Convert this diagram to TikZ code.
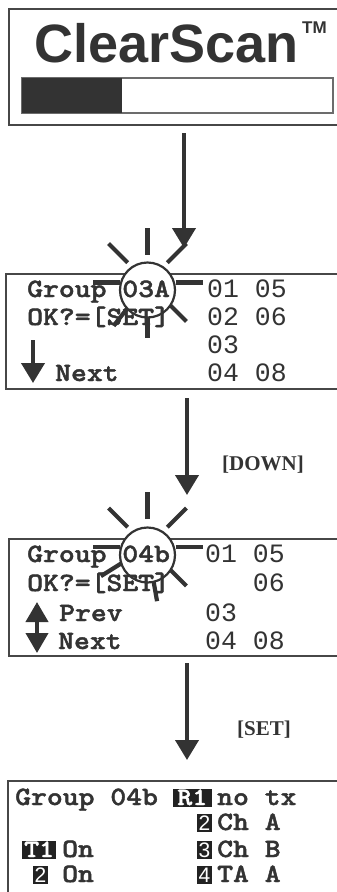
\documentclass[tikz,border=0pt]{standalone}
\usepackage{fontspec}
\usepackage{xcolor}
\usetikzlibrary{arrows.meta}
\newfontfamily\csSans{Liberation Sans}
\newfontfamily\csSerif{Liberation Serif}
\newfontfamily\csNum{Liberation Mono}
\newfontfamily\csCour{lmmonolt10-bold}[Extension=.otf,FakeStretch=1.14,FakeBold=1.6]
\definecolor{csInk}{HTML}{333333}
\definecolor{csLine}{HTML}{474747}
\definecolor{csTag}{HTML}{222222}
\tikzset{
  cs-panel/.style={draw=csLine, line width=2pt, fill=white},
  cs-bar/.style={draw=csLine!80, line width=1.2pt, fill=white},
  cs-txt/.style={anchor=base west, inner sep=0pt, text=csInk,
    font=\csCour\fontsize{26.5}{28}\selectfont},
  cs-num/.style={cs-txt, font=\csNum\fontsize{26.5}{28}\selectfont},
  cs-tag/.style={anchor=base east, inner xsep=1.5pt, inner ysep=1.5pt,
    fill=csTag, text=white, text height=15pt, text depth=0pt,
    font=\csSans\fontsize{21}{22}\selectfont},
  cs-tagc/.style={cs-tag, inner xsep=2pt, font=\csCour\fontsize{25}{26}\selectfont},
  cs-key/.style={anchor=base west, inner sep=0pt, text=csInk,
    font=\csSerif\bfseries\fontsize{21}{22}\selectfont},
  cs-flow/.style={-{Triangle[width=23pt,length=20pt]}, line width=4pt, draw=csInk},
  cs-flow2/.style={{Triangle[width=22pt,length=20pt]}-{Triangle[width=22pt,length=20pt]},
    line width=4pt, draw=csInk},
  cs-ray/.style={line width=4.2pt, draw=csInk},
  cs-sun/.style={circle, draw=csInk, line width=2.2pt, fill=white,
    minimum size=55pt, inner sep=0pt}
}

\begin{document}
\begin{tikzpicture}[x=1pt,y=-1pt]
\useasboundingbox (0,0) rectangle (337,892);
\clip (0,0) rectangle (337,892);

% Title screen
\draw[cs-panel] (9,9) rectangle (360,125);
\node[anchor=base west, inner sep=0pt, text=csInk,
  font=\csSans\bfseries\fontsize{54}{56}\selectfont] (logo) at (34,62) {ClearScan};
\node[anchor=base west, inner sep=0pt, text=csInk,
  font=\csSans\bfseries\fontsize{17}{18}\selectfont] (tm) at (302,33) {TM};
\draw[cs-bar] (22,78) rectangle (333,113);
\fill[csInk] (22,78) rectangle (122,113);

\coordinate (a1s) at (184,133);
\coordinate (a1e) at (184,248);
\draw[cs-flow] (a1s) -- (a1e);

% Group 03A
\draw[cs-panel] (6,274) rectangle (360,389);
\coordinate (rayA) at (147.5,282.5);
\foreach \a in {0,45,90,128,180,225,270,315}
  \draw[cs-ray] (rayA) ++(\a:28) -- ++(\a:27);
\node[cs-sun] (sunA) at (147.5,290) {};
\node[cs-txt] (grpA) at (27,297) {Group 03A};
\node[cs-txt] (okA) at (27,325) {OK?=[SET]};
\node[cs-txt] (nextA) at (55,381) {Next};
\node[cs-num] (nA1) at (207,297) {01 05};
\node[cs-num] (nA2) at (207,325) {02 06};
\node[cs-num] (nA3) at (207,353) {03};
\node[cs-num] (nA4) at (207,381) {04 08};
\coordinate (dnAs) at (33,340);
\coordinate (dnAe) at (33,383);
\draw[cs-flow] (dnAs) -- (dnAe);

\coordinate (a2s) at (187,398);
\coordinate (a2e) at (187,495);
\draw[cs-flow] (a2s) -- (a2e);
\node[cs-key] (kdown) at (222,470) {[DOWN]};

% Group 04b
\draw[cs-panel] (9,539) rectangle (360,656);
\coordinate (rayB) at (147.5,547);
\foreach \a in {0,45,80,148,180,225,270,315}
  \draw[cs-ray] (rayB) ++(\a:28) -- ++(\a:27);
\node[cs-sun] (sunB) at (147.5,555) {};
\node[cs-txt] (grpB) at (27,562) {Group 04b};
\node[cs-txt] (okB) at (27,591) {OK?=[SET]};
\node[cs-txt] (prevB) at (59,621) {Prev};
\node[cs-txt] (nextB) at (58,649) {Next};
\node[cs-num] (nB1) at (205,562) {01 05};
\node[cs-num] (nB2) at (205,591) {\phantom{01 }06};
\node[cs-num] (nB3) at (205,621) {03};
\node[cs-num] (nB4) at (205,649) {04 08};
\coordinate (udBs) at (37,602);
\coordinate (udBe) at (37,653);
\draw[cs-flow2] (udBs) -- (udBe);

\coordinate (a3s) at (187,663);
\coordinate (a3e) at (187,760);
\draw[cs-flow] (a3s) -- (a3e);
\node[cs-key] (kset) at (237,735) {[SET]};

% Group 04b detail
\draw[cs-panel] (8,781) rectangle (360,920);
\node[cs-txt] (grpC) at (15,805) {Group 04b};
\node[cs-tagc, minimum width=39pt] (r1) at (212,805) {R1};
\node[cs-tag] (r2) at (212,830) {2};
\node[cs-tag] (r3) at (212,857) {3};
\node[cs-tag] (r4) at (212,882) {4};
\node[cs-txt] (rx1) at (217,805) {no tx};
\node[cs-txt] (rx2) at (217,830) {Ch A};
\node[cs-txt] (rx3) at (217,857) {Ch B};
\node[cs-txt] (rx4) at (217,882) {TA A};
\node[cs-tagc, anchor=base west, minimum width=33pt] (t1) at (22,857) {T1};
\node[cs-tag, anchor=base west] (t2) at (33,882) {2};
\node[cs-txt] (tx1) at (62,857) {On};
\node[cs-txt] (tx2) at (62,882) {On};
\end{tikzpicture}
\end{document}
